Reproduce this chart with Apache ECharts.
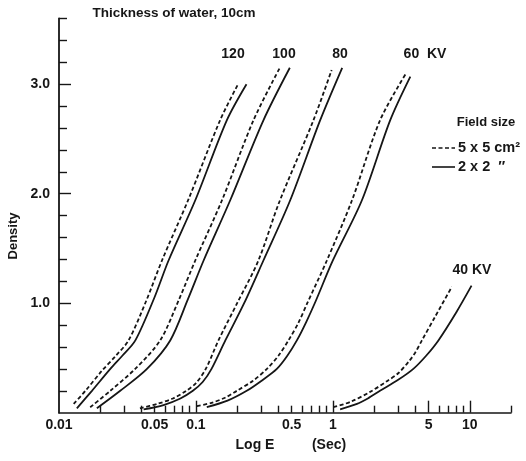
<!DOCTYPE html>
<html>
<head>
<meta charset="utf-8">
<script src="https://cdn.jsdelivr.net/npm/echarts@6/dist/echarts.min.js"></script>
<style>html,body{margin:0;padding:0;background:#fff}#c{width:526px;height:461px}</style>
</head>
<body>
<div id="c"></div>
<script>
// ---- data: [exposure E (sec), density] ----
const kv120_5x5 = [[0.0128,0.08],[0.0156,0.2],[0.0205,0.38],[0.026,0.52],[0.0322,0.66],[0.0433,1.02],[0.0565,1.39],[0.0883,1.95],[0.15,2.67],[0.203,3.0]];
const kv120_2x2 = [[0.0135,0.04],[0.0174,0.2],[0.0237,0.4],[0.029,0.52],[0.0361,0.66],[0.0497,1.05],[0.0631,1.39],[0.0989,1.94],[0.168,2.67],[0.234,3.0]];
const kv100_5x5 = [[0.0169,0.05],[0.0237,0.2],[0.036,0.4],[0.0548,0.66],[0.075,1.03],[0.0989,1.39],[0.155,1.94],[0.263,2.67],[0.41,3.15]];
const kv100_2x2 = [[0.0189,0.04],[0.028,0.2],[0.0439,0.4],[0.0649,0.66],[0.087,1.03],[0.1138,1.39],[0.178,1.94],[0.311,2.67],[0.485,3.15]];
const kv80_5x5 = [[0.039,0.04],[0.052,0.08],[0.068,0.13],[0.085,0.2],[0.1,0.27],[0.118,0.4],[0.146,0.66],[0.2,1.0],[0.286,1.39],[0.405,1.92],[0.721,2.67],[0.98,3.13]];
const kv80_2x2 = [[0.0415,0.03],[0.058,0.07],[0.077,0.13],[0.095,0.2],[0.112,0.28],[0.13,0.4],[0.164,0.66],[0.225,1.0],[0.311,1.39],[0.488,1.94],[0.807,2.67],[1.17,3.15]];
const kv60_5x5 = [[0.1016,0.06],[0.13,0.09],[0.165,0.14],[0.199,0.2],[0.26,0.29],[0.33,0.4],[0.4,0.52],[0.474,0.66],[0.56,0.82],[0.65,1.0],[0.904,1.39],[1.38,1.94],[2.21,2.67],[3.39,3.09]];
const kv60_2x2 = [[0.12,0.05],[0.17,0.11],[0.235,0.2],[0.3,0.29],[0.39,0.4],[0.465,0.52],[0.546,0.66],[0.64,0.83],[0.75,1.02],[1.0,1.39],[1.63,1.94],[2.62,2.67],[3.68,3.07]];
const kv40_5x5 = [[1.01,0.05],[1.35,0.1],[1.87,0.19],[2.5,0.29],[3.0,0.36],[3.6,0.47],[4.0,0.55],[4.47,0.66],[5.6,0.88],[7.4,1.15]];
const kv40_2x2 = [[1.13,0.03],[1.5,0.08],[1.8,0.13],[2.21,0.2],[3.0,0.3],[3.87,0.4],[4.8,0.52],[5.9,0.66],[8.0,0.92],[10.3,1.16]];

// ---- axis ticks / labels ----
const xTickLabels = [0.01, 0.05, 0.1, 0.5, 1, 5, 10];
const xMajorTicks = [0.1, 1, 5, 10];
const xMinorTicks = [0.02,0.03,0.04,0.05,0.06,0.07,0.08,0.09,0.2,0.3,0.4,0.5,0.6,0.7,0.8,0.9,2,3,4,6,7,8,9,20];
const yTickLabels = [1, 2, 3];
const yMinorTicks = [0.2,0.4,0.6,0.8,1.2,1.4,1.6,1.8,2.2,2.4,2.6,2.8,3.2,3.4,3.6];

const ink = '#161616';
const FONT = 'Liberation Sans';
const chart = echarts.init(document.getElementById('c'));

function curve(data, dashed) {
  return {
    type: 'line', data: data, xAxisIndex: 0, yAxisIndex: 0,
    smooth: 0.3, showSymbol: false, symbol: 'none', silent: true,
    lineStyle: { color: ink, width: 1.8, type: dashed ? [4, 2.5] : 'solid' }
  };
}
function fmtX(v){ return String(+(+v).toPrecision(3)); }

const txt = (t, x, y, size, align) => ({
  type: 'text', x: x, y: y,
  style: { text: t, fill: ink, font: 'bold ' + size + 'px "' + FONT + '"', align: align || 'center', verticalAlign: 'middle' }
});

chart.setOption({
  animation: false,
  backgroundColor: '#fff',
  grid: { left: 59, right: 15, top: 18.5, bottom: 48.3 },
  xAxis: [{
    type: 'log', logBase: 10, min: 0.01, max: 20, position: 'bottom',
    axisLine: { show: true, onZero: false, lineStyle: { color: ink, width: 1.6 } },
    axisTick: { show: true, inside: true, length: 7, customValues: xMinorTicks, lineStyle: { color: ink, width: 1.4 } },
    axisLabel: { customValues: xTickLabels, formatter: fmtX, color: ink, fontSize: 14, fontWeight: 'bold', fontFamily: FONT, margin: 5 },
    splitLine: { show: false }, minorTick: { show: false }
  }, {
    type: 'log', logBase: 10, min: 0.01, max: 20, position: 'bottom', gridIndex: 0,
    axisLine: { show: false },
    axisTick: { show: true, inside: true, length: 12, customValues: xMajorTicks, lineStyle: { color: ink, width: 1.4 } },
    axisLabel: { show: false }, splitLine: { show: false }
  }],
  yAxis: [{
    type: 'value', min: 0, max: 3.6, position: 'left',
    axisLine: { show: true, onZero: false, lineStyle: { color: ink, width: 1.8 } },
    axisTick: { show: true, inside: true, length: 8, customValues: yMinorTicks, lineStyle: { color: ink, width: 1.4 } },
    axisLabel: { customValues: yTickLabels, formatter: v => (+v).toFixed(1), color: ink, fontSize: 14, fontWeight: 'bold', fontFamily: FONT, margin: 9 },
    splitLine: { show: false }
  }, {
    type: 'value', min: 0, max: 3.6, position: 'left', gridIndex: 0,
    axisLine: { show: false },
    axisTick: { show: true, inside: true, length: 12, customValues: yTickLabels, lineStyle: { color: ink, width: 1.4 } },
    axisLabel: { show: false }, splitLine: { show: false }
  }],
  series: [
    curve(kv120_5x5, true), curve(kv120_2x2, false),
    curve(kv100_5x5, true), curve(kv100_2x2, false),
    curve(kv80_5x5, true), curve(kv80_2x2, false),
    curve(kv60_5x5, true), curve(kv60_2x2, false),
    curve(kv40_5x5, true), curve(kv40_2x2, false)
  ],
  graphic: [
    txt('Thickness of water, 10cm', 174, 13, 13.5),
    Object.assign(txt('Density', 13, 236, 13), { rotation: Math.PI / 2 }),
    txt('Log E', 255, 445, 14),
    txt('(Sec)', 329, 445, 14),
    txt('120', 233, 54, 14),
    txt('100', 284, 54, 14),
    txt('80', 340, 54, 14),
    txt('60  KV', 425, 54, 14),
    txt('40 KV', 472, 270, 14),
    txt('Field size', 486, 122, 13),
    { type: 'line', shape: { x1: 432, y1: 148, x2: 455, y2: 148 }, style: { stroke: ink, lineWidth: 1.6, lineDash: [4, 2.5] } },
    txt('5 x 5 cm²', 458, 148, 14.5, 'left'),
    { type: 'line', shape: { x1: 432, y1: 167, x2: 455, y2: 167 }, style: { stroke: ink, lineWidth: 1.6 } },
    txt('2 x 2  ″', 458, 167, 14.5, 'left')
  ]
});
</script>
</body>
</html>
